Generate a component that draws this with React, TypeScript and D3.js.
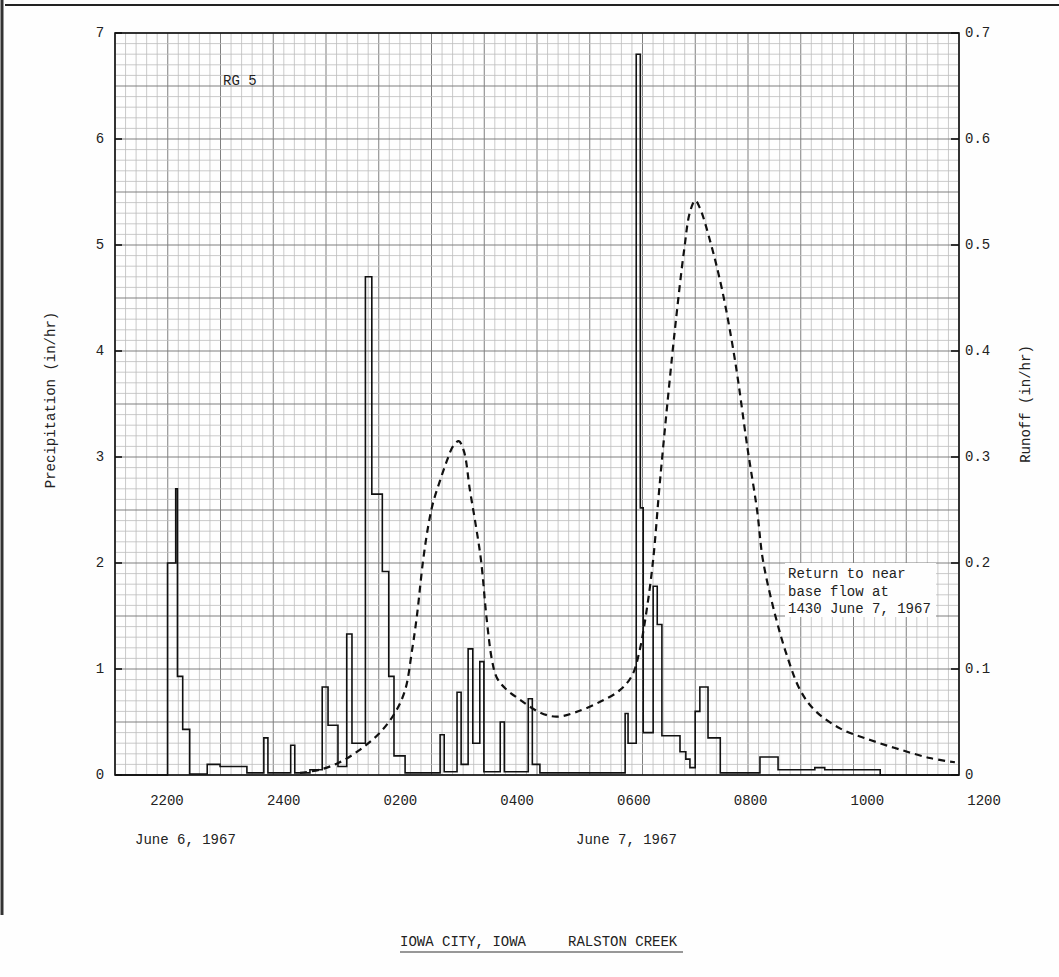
import React from 'react';
import * as d3 from 'd3';

// Time in hours after 2200 June 6, 1967
const timeTicks = [0, 2, 4, 6, 8, 10, 12, 14];
const timeTickLabels = ['2200', '2400', '0200', '0400', '0600', '0800', '1000', '1200'];
const precipTicks = [0, 1, 2, 3, 4, 5, 6, 7];
const runoffTicks = [0, 0.1, 0.2, 0.3, 0.4, 0.5, 0.6, 0.7];
const runoffTickLabels = ['0', '0.1', '0.2', '0.3', '0.4', '0.5', '0.6', '0.7'];

// Precipitation (in/hr), step function: value holds from this hour to the next
const precipHours = [
  -0.89, 0.01, 0.15, 0.18, 0.27, 0.39, 0.69, 0.91, 1.37, 1.66, 1.73, 2.12, 2.19, 2.45,
  2.66, 2.76, 2.93, 3.08, 3.17, 3.40, 3.51, 3.69, 3.80, 3.89, 4.08, 4.68, 4.75, 4.97,
  5.04, 5.16, 5.24, 5.36, 5.43, 5.71, 5.78, 6.19, 6.26, 6.39, 7.85, 7.90, 8.04, 8.11,
  8.16, 8.33, 8.40, 8.48, 8.79, 8.89, 8.96, 9.05, 9.13, 9.27, 9.48, 10.16, 10.47, 11.10,
  11.27, 12.22,
];
const precipValues = [
  0, 2.0, 2.7, 0.93, 0.43, 0.01, 0.1, 0.08, 0.02, 0.35, 0.02, 0.28, 0.02, 0.05,
  0.83, 0.47, 0.08, 1.33, 0.3, 4.7, 2.65, 1.92, 0.93, 0.18, 0.02, 0.38, 0.03, 0.78,
  0.1, 1.19, 0.3, 1.07, 0.03, 0.5, 0.03, 0.72, 0.1, 0.02, 0.58, 0.3, 6.8, 2.52,
  0.4, 1.78, 1.42, 0.37, 0.22, 0.15, 0.07, 0.6, 0.83, 0.35, 0.02, 0.17, 0.05, 0.07,
  0.05, 0.0,
];

// Runoff (in/hr)
const runoffHours = [
  2.28, 2.62, 2.96, 3.31, 3.65, 3.91, 4.08, 4.20, 4.28, 4.39, 4.48, 4.56, 4.68, 4.80,
  4.90, 5.00, 5.09, 5.19, 5.29, 5.38, 5.48, 5.57, 5.65, 5.79, 6.05, 6.39, 6.67, 6.99,
  7.42, 7.76, 7.97, 8.10, 8.22, 8.33, 8.44, 8.58, 8.72, 8.86, 8.96, 9.05, 9.13, 9.30,
  9.51, 9.73, 9.95, 10.11, 10.21, 10.42, 10.62, 10.85, 11.10, 11.53, 12.05, 12.56, 13.07, 13.50,
];
const runoffValues = [
  0.002, 0.005, 0.012, 0.024, 0.04, 0.059, 0.08, 0.118, 0.149, 0.203, 0.236, 0.257, 0.278, 0.297,
  0.31, 0.315, 0.305, 0.269, 0.236, 0.203, 0.146, 0.108, 0.092, 0.082, 0.071, 0.059, 0.055, 0.059,
  0.069, 0.08, 0.094, 0.118, 0.156, 0.203, 0.273, 0.354, 0.429, 0.495, 0.531, 0.542, 0.535, 0.505,
  0.458, 0.392, 0.307, 0.25, 0.203, 0.151, 0.113, 0.08, 0.061, 0.044, 0.033, 0.024, 0.016, 0.012,
];

const annotationLines = ['Return to near', 'base flow at', '1430 June 7, 1967'];

const W = 1059;
const H = 977;
const L = 115;
const R = 959;
const T = 33;
const B = 775;
const FONT = '"Liberation Mono", "DejaVu Sans Mono", monospace';
const INK = '#222';

export default function App() {
  const x = d3.scaleLinear().domain([-0.89, 13.57]).range([L, R]);
  const yP = d3.scaleLinear().domain([0, 7]).range([B, T]);
  const yR = d3.scaleLinear().domain([0, 0.7]).range([B, T]);

  const precipData = precipHours.map((h, i) => [h, precipValues[i]] as [number, number]);
  precipData.push([13.57, 0]);
  const precipPath = d3
    .line<[number, number]>()
    .x((d) => x(d[0]))
    .y((d) => yP(d[1]))
    .curve(d3.curveStepAfter)(precipData) as string;

  const runoffData = runoffHours.map((h, i) => [h, runoffValues[i]] as [number, number]);
  const runoffPath = d3
    .line<[number, number]>()
    .x((d) => x(d[0]))
    .y((d) => yR(d[1]))
    .curve(d3.curveCatmullRom.alpha(0.5))(runoffData) as string;

  const nCols = 80;
  const colW = (R - L) / nCols;
  const vLines = d3.range(0, nCols + 1).map((i) => ({ x: L + i * colW, major: i % 5 === 0 }));
  const hLines = d3.range(0, 71).map((i) => ({ y: yP(i / 10), major: i % 5 === 0 }));

  return (
    <svg
      width={W}
      height={H}
      viewBox={`0 0 ${W} ${H}`}
      style={{ position: 'absolute', left: 0, top: 0, background: '#fff' }}
    >
      <rect x={0} y={0} width={W} height={H} fill="#fefefe" />
      {/* page border lines of the scan */}
      <line x1={5} y1={5} x2={W} y2={5} stroke="#222" strokeWidth={2} />
      <line x1={2} y1={0} x2={2} y2={915} stroke="#333" strokeWidth={3} />

      {/* graph paper grid */}
      <g>
        {vLines.map((l, i) => (
          <line
            key={'v' + i}
            x1={l.x}
            x2={l.x}
            y1={T}
            y2={B}
            stroke={l.major ? '#7f7f7f' : '#bdbdbd'}
            strokeWidth={l.major ? 1 : 0.8}
          />
        ))}
        {hLines.map((l, i) => (
          <line
            key={'h' + i}
            x1={L}
            x2={R}
            y1={l.y}
            y2={l.y}
            stroke={l.major ? '#7f7f7f' : '#bdbdbd'}
            strokeWidth={l.major ? 1 : 0.8}
          />
        ))}
      </g>

      {/* precipitation hyetograph */}
      <path d={precipPath} fill="none" stroke="#111" strokeWidth={1.6} strokeLinejoin="miter" />

      {/* runoff hydrograph */}
      <path d={runoffPath} fill="none" stroke="#111" strokeWidth={2.2} strokeDasharray="7,5" />

      {/* frame */}
      <rect x={L} y={T} width={R - L} height={B - T} fill="none" stroke="#111" strokeWidth={1.6} />

      {/* left axis */}
      {precipTicks.map((t) => (
        <g key={'p' + t}>
          <line x1={L} x2={L + 7} y1={yP(t)} y2={yP(t)} stroke="#111" strokeWidth={1.6} />
          <text
            x={100}
            y={yP(t)}
            textAnchor="middle"
            dominantBaseline="central"
            fontFamily={FONT}
            fontSize={14}
            fill={INK}
          >
            {t}
          </text>
        </g>
      ))}

      {/* right axis */}
      {runoffTicks.map((t, i) => (
        <g key={'r' + t}>
          <line x1={R - 8} x2={R} y1={yR(t)} y2={yR(t)} stroke="#111" strokeWidth={1.6} />
          <text
            x={965}
            y={yR(t)}
            dominantBaseline="central"
            fontFamily={FONT}
            fontSize={14}
            fill={INK}
          >
            {runoffTickLabels[i]}
          </text>
        </g>
      ))}

      {/* x axis labels */}
      {timeTicks.map((t, i) => (
        <text
          key={'x' + t}
          x={x(t)}
          y={805}
          textAnchor="middle"
          fontFamily={FONT}
          fontSize={14}
          fill={INK}
        >
          {timeTickLabels[i]}
        </text>
      ))}

      <text x={135} y={844} fontFamily={FONT} fontSize={14} fill={INK}>
        June 6, 1967
      </text>
      <text x={576} y={844} fontFamily={FONT} fontSize={14} fill={INK}>
        June 7, 1967
      </text>

      {/* axis titles */}
      <text
        transform={`translate(51, 400) rotate(-90)`}
        textAnchor="middle"
        dominantBaseline="central"
        fontFamily={FONT}
        fontSize={14}
        fill={INK}
      >
        Precipitation (in/hr)
      </text>
      <text
        transform={`translate(1026, 404) rotate(-90)`}
        textAnchor="middle"
        dominantBaseline="central"
        fontFamily={FONT}
        fontSize={14}
        fill={INK}
      >
        Runoff (in/hr)
      </text>

      {/* gauge label */}
      <text x={223} y={85} fontFamily={FONT} fontSize={14} fill={INK}>
        RG 5
      </text>

      {/* annotation */}
      <rect x={785} y={563} width={151} height={54} fill="#fefefe" />
      {annotationLines.map((s, i) => (
        <text
          key={'a' + i}
          x={788}
          y={578 + i * 17.5}
          fontFamily={FONT}
          fontSize={14}
          fill={INK}
        >
          {s}
        </text>
      ))}

      {/* title */}
      <text
        x={400}
        y={946}
        fontFamily={FONT}
        fontSize={14}
        fill={INK}
        style={{ whiteSpace: 'pre' }}
      >
        {'IOWA CITY, IOWA     RALSTON CREEK'}
      </text>
      <line x1={400} x2={683} y1={952} y2={952} stroke="#333" strokeWidth={1.2} />
    </svg>
  );
}
